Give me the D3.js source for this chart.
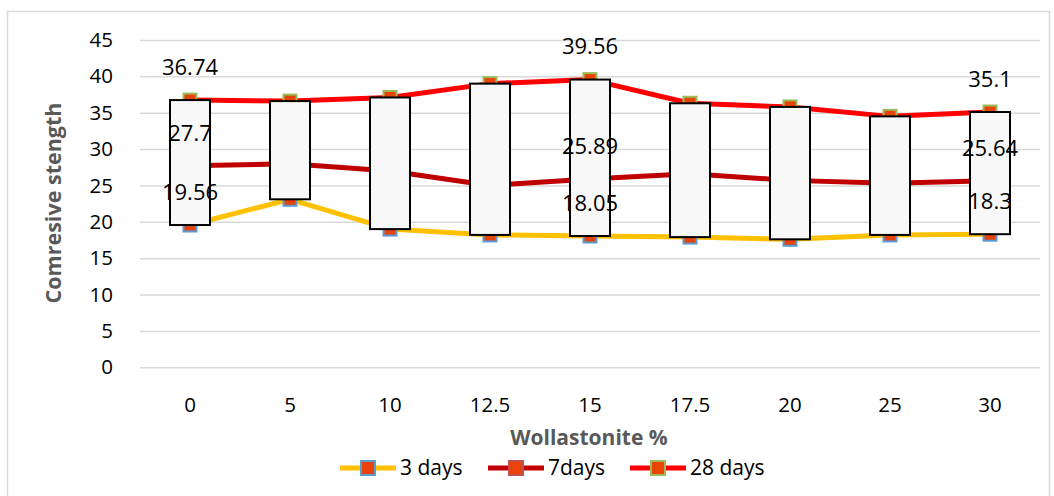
<!DOCTYPE html>
<html>
<head>
<meta charset="utf-8">
<script src="https://cdn.jsdelivr.net/npm/d3@7"></script>
<style>
  body { margin: 0; background: #fff; }
  svg { display: block; font-family: 'Open Sans', sans-serif; }
</style>
</head>
<body>
<svg></svg>
<script>
// wollastonite content (x categories)
const categories = ['0', '5', '10', '12.5', '15', '17.5', '20', '25', '30'];
// compressive strength by curing age
const days3 = [19.56, 23.1, 19.0, 18.2, 18.05, 17.9, 17.6, 18.2, 18.3];
const days7 = [27.7, 28.0, 27.0, 25.0, 25.89, 26.6, 25.7, 25.3, 25.64];
const days28 = [36.74, 36.6, 37.1, 39.0, 39.56, 36.3, 35.8, 34.5, 35.1];
const yTicks = [0, 5, 10, 15, 20, 25, 30, 35, 40, 45];
const labelled = ['0', '15', '30'];

const seriesNames = ['3 days', '7days', '28 days'];
const lineColors = ['#ffc000', '#c00000', '#ff0000'];
const markerBorders = ['#5b9bd5', '#c0504d', '#9bbb59'];
const markerFill = '#e8440a';

const width = 1054;
const height = 496;
const margin = { top: 40, right: 14, bottom: 129, left: 140 };

const svg = d3.select('svg')
  .attr('width', width)
  .attr('height', height);

// chart area border
svg.append('rect')
  .attr('x', 7.5).attr('y', 11.5)
  .attr('width', width - 12).attr('height', height)
  .attr('fill', 'none')
  .attr('stroke', '#d9d9d9')
  .attr('stroke-width', 1.5);

const xScale = d3.scaleBand()
  .domain(categories)
  .range([margin.left, width - margin.right]);

const yScale = d3.scaleLinear()
  .domain([0, 45])
  .range([height - margin.bottom + 0.3, margin.top]);

const cx = (d) => xScale(d) + xScale.bandwidth() / 2;

// gridlines
svg.append('g')
  .attr('transform', `translate(${margin.left}, 0)`)
  .call(d3.axisLeft(yScale)
    .tickValues(yTicks)
    .tickSize(-(width - margin.left - margin.right))
    .tickFormat(''))
  .call(g => g.select('.domain').remove())
  .call(g => g.selectAll('line').attr('stroke', '#d9d9d9').attr('stroke-width', 1.5));

// y tick labels
svg.append('g')
  .attr('transform', `translate(${margin.left}, 0)`)
  .call(d3.axisLeft(yScale).tickValues(yTicks).tickSize(0).tickPadding(27))
  .call(g => g.select('.domain').remove())
  .call(g => g.selectAll('text')
    .attr('font-family', 'Open Sans, sans-serif')
    .attr('font-size', 20.5)
    .attr('fill', '#000'));

// x tick labels
svg.append('g')
  .attr('transform', `translate(0, ${height - margin.bottom})`)
  .call(d3.axisBottom(xScale).tickSize(0).tickPadding(30))
  .call(g => g.select('.domain').remove())
  .call(g => g.selectAll('text')
    .attr('font-family', 'Open Sans, sans-serif')
    .attr('font-size', 20.5)
    .attr('fill', '#000'));

// axis titles
svg.append('text')
  .attr('transform', `translate(61, 203) rotate(-90)`)
  .attr('text-anchor', 'middle')
  .attr('font-size', 21.5)
  .attr('font-weight', 'bold')
  .attr('fill', '#595959')
  .text('Comresive stength');

svg.append('text')
  .attr('x', 589)
  .attr('y', 445)
  .attr('text-anchor', 'middle')
  .attr('font-size', 21)
  .attr('font-weight', 'bold')
  .attr('fill', '#595959')
  .text('Wollastonite %');

const series = [days3, days7, days28].map((vals, i) => ({
  name: seriesNames[i],
  color: lineColors[i],
  border: markerBorders[i],
  values: categories.map((c, j) => ({ cat: c, v: vals[j] }))
}));

const line = d3.line()
  .x(d => cx(d.cat))
  .y(d => yScale(d.v));

// lines
svg.append('g')
  .selectAll('path')
  .data(series)
  .join('path')
  .attr('d', d => line(d.values))
  .attr('fill', 'none')
  .attr('stroke', d => d.color)
  .attr('stroke-width', 5)
  .attr('stroke-linejoin', 'round');

// markers
const ms = 13;
series.forEach(s => {
  svg.append('g')
    .selectAll('rect')
    .data(s.values)
    .join('rect')
    .attr('x', d => cx(d.cat) - ms / 2)
    .attr('y', d => yScale(d.v) - ms / 2)
    .attr('width', ms)
    .attr('height', ms)
    .attr('fill', markerFill)
    .attr('stroke', s.border)
    .attr('stroke-width', 2);
});

// up-down bars between 3 days and 28 days
const boxW = 40;
svg.append('g')
  .selectAll('rect')
  .data(categories)
  .join('rect')
  .attr('x', (d) => cx(d) - boxW / 2)
  .attr('y', (d, i) => yScale(Math.max(days3[i], days28[i])))
  .attr('width', boxW)
  .attr('height', (d, i) => Math.abs(yScale(days3[i]) - yScale(days28[i])))
  .attr('fill', '#f8f8f8')
  .attr('stroke', '#000')
  .attr('stroke-width', 2);

// data labels
series.forEach(s => {
  svg.append('g')
    .selectAll('text')
    .data(s.values.filter(d => labelled.includes(d.cat)))
    .join('text')
    .attr('x', d => cx(d.cat))
    .attr('y', d => yScale(d.v) - 33)
    .attr('dy', '0.35em')
    .attr('text-anchor', 'middle')
    .attr('font-size', 22)
    .attr('fill', '#000')
    .text(d => d.v);
});

// legend
const legendX = [340, 488, 630];
const legend = svg.append('g')
  .selectAll('g')
  .data(series)
  .join('g')
  .attr('transform', (d, i) => `translate(${legendX[i]}, 468)`);

legend.append('line')
  .attr('x1', 0).attr('x2', 56)
  .attr('stroke', d => d.color)
  .attr('stroke-width', 5);

legend.append('rect')
  .attr('x', 28 - 7).attr('y', -7)
  .attr('width', 14).attr('height', 14)
  .attr('fill', markerFill)
  .attr('stroke', d => d.border)
  .attr('stroke-width', 2);

legend.append('text')
  .attr('x', 60)
  .attr('dy', '0.35em')
  .attr('font-size', 21)
  .attr('fill', '#000')
  .text(d => d.name);
</script>
</body>
</html>
